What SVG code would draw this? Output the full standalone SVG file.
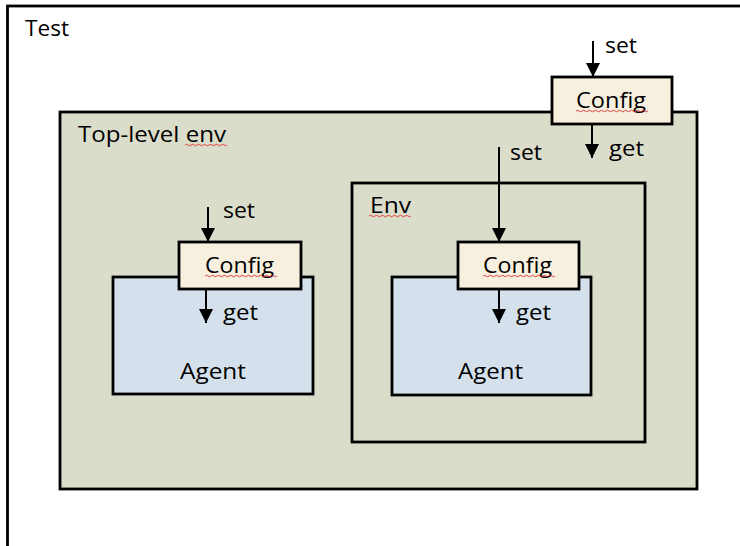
<svg xmlns="http://www.w3.org/2000/svg" width="740" height="546" viewBox="0 0 740 546">
<style>
.box{stroke:#000;stroke-width:2.8}
.env{fill:#DBDDCB}
.cfg{fill:#F7F0DF}
.agent{fill:#D4E1EC}
text{font-family:"Open Sans","Liberation Sans",sans-serif;font-size:22px;fill:#000}
.conn line{stroke:#000;stroke-width:2}
.spell{fill:none;stroke:#E03030;stroke-width:0.9}
</style>
<defs>
<marker id="ah" markerUnits="userSpaceOnUse" markerWidth="14" markerHeight="14" viewBox="0 0 12 12" refX="12" refY="6" orient="auto">
<path d="M0,0 L12,6 L0,12 Z" fill="#000"/>
</marker>
</defs>
<rect width="740" height="546" fill="#fff"/>
<g id="test">
<rect class="box" x="7.5" y="6" width="760" height="580" fill="#fff"/>
<text x="25" y="36" textLength="44" lengthAdjust="spacingAndGlyphs">Test</text>
</g>
<g id="toplevel-env">
<rect class="box env" x="60" y="112" width="637" height="377"/>
<text x="78" y="142" textLength="148" lengthAdjust="spacingAndGlyphs">Top-level env</text>
</g>
<g id="top-config">
<rect class="box cfg" x="552" y="77" width="120" height="47"/>
<text x="576" y="108" textLength="70" lengthAdjust="spacingAndGlyphs">Config</text>
</g>
<g id="env">
<rect class="box env" x="352" y="183" width="293" height="259"/>
<text x="370" y="213" textLength="41" lengthAdjust="spacingAndGlyphs">Env</text>
</g>
<g id="left-agent">
<rect class="box agent" x="113" y="277" width="200" height="117"/>
<text x="180" y="379" textLength="66" lengthAdjust="spacingAndGlyphs">Agent</text>
</g>
<g id="left-config">
<rect class="box cfg" x="179" y="242" width="122" height="47"/>
<text x="205" y="273" textLength="69" lengthAdjust="spacingAndGlyphs">Config</text>
</g>
<g id="env-agent">
<rect class="box agent" x="392" y="277" width="199" height="118"/>
<text x="458" y="379" textLength="65" lengthAdjust="spacingAndGlyphs">Agent</text>
</g>
<g id="env-config">
<rect class="box cfg" x="458" y="242" width="121" height="47"/>
<text x="483" y="273" textLength="69" lengthAdjust="spacingAndGlyphs">Config</text>
</g>
<g id="connectors" class="conn">
<line x1="593" y1="41" x2="593" y2="77" marker-end="url(#ah)"/>
<text x="605" y="53" textLength="32" lengthAdjust="spacingAndGlyphs">set</text>
<line x1="592" y1="125" x2="592" y2="158" marker-end="url(#ah)"/>
<text x="609" y="156" textLength="35" lengthAdjust="spacingAndGlyphs">get</text>
<line x1="499" y1="147" x2="499" y2="242" marker-end="url(#ah)"/>
<text x="510" y="160" textLength="32" lengthAdjust="spacingAndGlyphs">set</text>
<line x1="499" y1="290" x2="499" y2="323" marker-end="url(#ah)"/>
<text x="516" y="320" textLength="35" lengthAdjust="spacingAndGlyphs">get</text>
<line x1="208" y1="207" x2="208" y2="242" marker-end="url(#ah)"/>
<text x="223" y="218" textLength="32" lengthAdjust="spacingAndGlyphs">set</text>
<line x1="206" y1="290" x2="206" y2="323" marker-end="url(#ah)"/>
<text x="223" y="320" textLength="35" lengthAdjust="spacingAndGlyphs">get</text>
</g>
<g id="spellcheck" class="spell">
<path d="M576,111 q1.5,-1.5 3,0 t3,0 t3,0 t3,0 t3,0 t3,0 t3,0 t3,0 t3,0 t3,0 t3,0 t3,0 t3,0 t3,0 t3,0 t3,0 t3,0 t3,0 t3,0 t3,0 t3,0 t3,0 t3,0 t3,0"/>
<path d="M205,276 q1.5,-1.5 3,0 t3,0 t3,0 t3,0 t3,0 t3,0 t3,0 t3,0 t3,0 t3,0 t3,0 t3,0 t3,0 t3,0 t3,0 t3,0 t3,0 t3,0 t3,0 t3,0 t3,0 t3,0 t3,0 t3,0"/>
<path d="M483,276 q1.5,-1.5 3,0 t3,0 t3,0 t3,0 t3,0 t3,0 t3,0 t3,0 t3,0 t3,0 t3,0 t3,0 t3,0 t3,0 t3,0 t3,0 t3,0 t3,0 t3,0 t3,0 t3,0 t3,0 t3,0 t3,0"/>
<path d="M185,145 q1.5,-1.5 3,0 t3,0 t3,0 t3,0 t3,0 t3,0 t3,0 t3,0 t3,0 t3,0 t3,0 t3,0 t3,0 t3,0"/>
<path d="M369,216 q1.5,-1.5 3,0 t3,0 t3,0 t3,0 t3,0 t3,0 t3,0 t3,0 t3,0 t3,0 t3,0 t3,0 t3,0 t3,0"/>
</g>
</svg>
